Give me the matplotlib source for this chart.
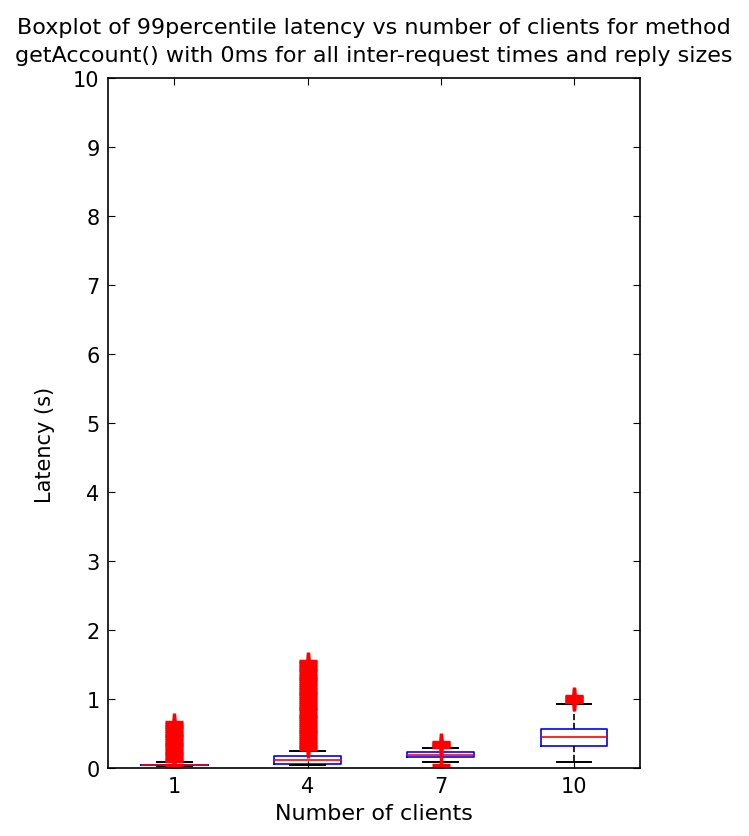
import matplotlib
matplotlib.use('Agg')
import matplotlib.pyplot as plt

plt.rcParams['font.family'] = ['DejaVu Sans']

# number of clients (x categories)
clients = ['1', '4', '7', '10']

# box statistics (seconds)
q1 = [0.04, 0.06, 0.16, 0.32]
med = [0.045, 0.11, 0.19, 0.45]
q3 = [0.05, 0.17, 0.23, 0.57]
whislo = [0.035, 0.04, 0.09, 0.09]
whishi = [0.085, 0.25, 0.29, 0.93]

# outliers (dense red '+' marks)
fliers_1 = [0.03, 0.10, 0.12, 0.15, 0.17, 0.20, 0.22, 0.25, 0.28, 0.30, 0.33, 0.35,
            0.38, 0.41, 0.43, 0.46, 0.48, 0.51, 0.54, 0.56, 0.59, 0.61, 0.64, 0.67]
fliers_4 = [0.27, 0.30, 0.32, 0.35, 0.38, 0.41, 0.43, 0.46, 0.49, 0.52, 0.54, 0.57,
            0.60, 0.63, 0.65, 0.68, 0.71, 0.74, 0.76, 0.79, 0.82, 0.85, 0.87, 0.90,
            0.93, 0.96, 0.98, 1.01, 1.04, 1.07, 1.09, 1.12, 1.15, 1.18, 1.20, 1.23,
            1.26, 1.29, 1.31, 1.34, 1.37, 1.40, 1.42, 1.45, 1.48, 1.51, 1.53, 1.55]
fliers_7 = [0.05, 0.30, 0.32, 0.34, 0.36, 0.38]
fliers_10 = [0.95, 0.97, 0.99, 1.01, 1.03, 1.05]
fliers = [fliers_1, fliers_4, fliers_7, fliers_10]

stats = []
for i in range(len(clients)):
    stats.append({'label': clients[i], 'q1': q1[i], 'med': med[i], 'q3': q3[i],
                  'whislo': whislo[i], 'whishi': whishi[i], 'fliers': fliers[i]})

fig = plt.figure(figsize=(7.49, 8.37), dpi=100)
ax = fig.add_axes([0.144, 0.0812, 0.711, 0.8244])

ax.bxp(stats, positions=[1, 2, 3, 4], widths=0.5, capwidths=0.26,
       boxprops=dict(color='blue', linewidth=1.2),
       medianprops=dict(color='red', linewidth=1.2),
       whiskerprops=dict(color='black', linestyle='--', linewidth=1.2),
       capprops=dict(color='black', linewidth=1.4),
       flierprops=dict(marker='+', markeredgecolor='red', markersize=12.5,
                       markeredgewidth=2.5))

ax.set_xlim(0.5, 4.5)
ax.set_ylim(0, 10)
ax.set_yticks(range(0, 11))
ax.set_xticks([1, 2, 3, 4])
ax.set_xticklabels(clients)
ax.tick_params(direction='in', top=True, right=True, length=5, labelsize=15, pad=6)
for s in ax.spines.values():
    s.set_linewidth(1.2)

ax.set_xlabel('Number of clients', fontsize=16, labelpad=5)
ax.set_ylabel('Latency (s)', fontsize=15)
ax.yaxis.set_label_coords(-0.10, 0.47)
ax.set_title('Boxplot of 99percentile latency vs number of clients for method\n'
             'getAccount() with 0ms for all inter-request times and reply sizes',
             fontsize=16, pad=12, linespacing=1.55)

fig.savefig('out.png', dpi=100)
